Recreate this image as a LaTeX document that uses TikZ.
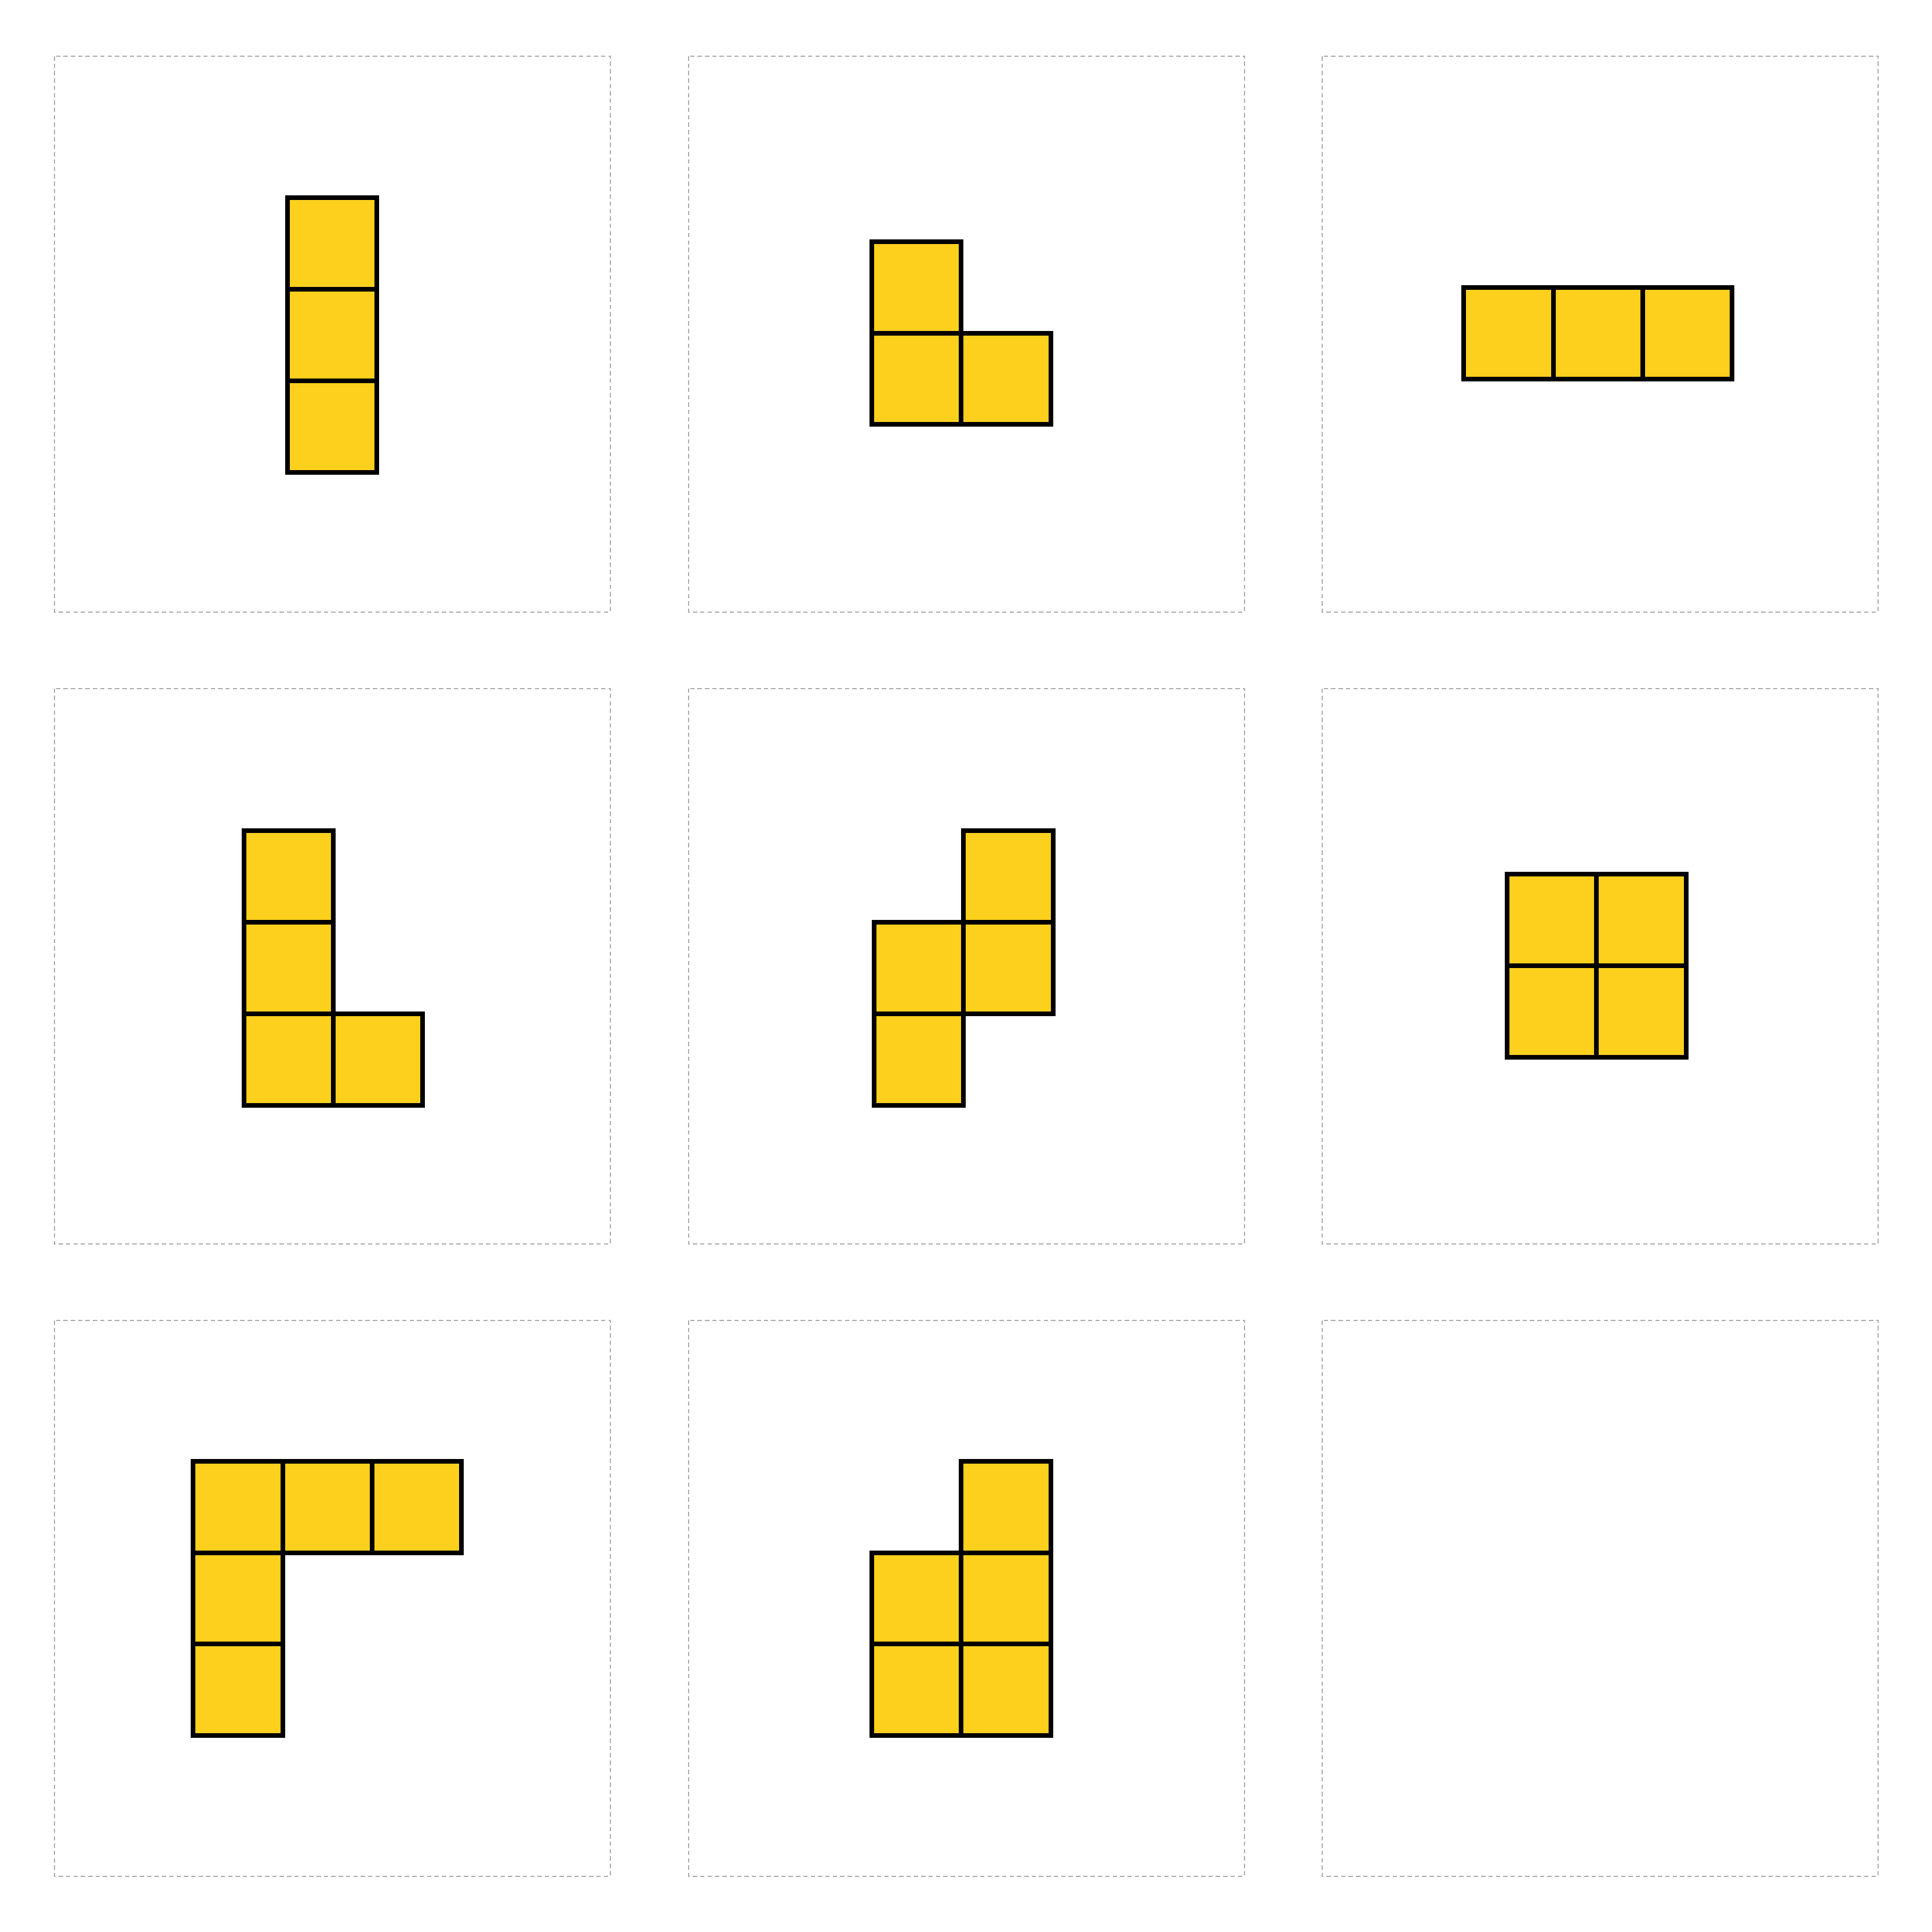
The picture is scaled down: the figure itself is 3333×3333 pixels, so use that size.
\documentclass[tikz,border=0pt]{standalone}
\definecolor{cellfill}{RGB}{252,208,29}
\definecolor{panelgray}{RGB}{172,172,172}
\def\cw{154.3}
\def\ch{157.8}
\begin{document}
\begin{tikzpicture}[x=0.01cm,y=-0.01cm,
  cellbox/.style={fill=cellfill,draw=black,line width=0.08cm},
  panelbox/.style={draw=panelgray,line width=0.02cm,dash pattern=on 0.075cm off 0.052cm}]
\useasboundingbox[fill=white] (0,0) rectangle (3333,3333);
% panels
\foreach \px in {94,1188,2281}{
  \foreach \py in {97,1187.5,2278}{
    \draw[panelbox] (\px,\py) rectangle ++(959,958.5);
  }
}
% piece 1: vertical I
\begin{scope}[shift={(496,341.3)}]
\foreach \c/\r in {0/0,0/1,0/2} \draw[cellbox] (\c*\cw,\r*\ch) rectangle ++(\cw,\ch);
\end{scope}
% piece 2: small L
\begin{scope}[shift={(1504,416.7)}]
\foreach \c/\r in {0/0,0/1,1/1} \draw[cellbox] (\c*\cw,\r*\ch) rectangle ++(\cw,\ch);
\end{scope}
% piece 3: horizontal I
\begin{scope}[shift={(2525.3,495.7)}]
\foreach \c/\r in {0/0,1/0,2/0} \draw[cellbox] (\c*\cw,\r*\ch) rectangle ++(\cw,\ch);
\end{scope}
% piece 4: L
\begin{scope}[shift={(420.7,1433.3)}]
\foreach \c/\r in {0/0,0/1,0/2,1/2} \draw[cellbox] (\c*\cw,\r*\ch) rectangle ++(\cw,\ch);
\end{scope}
% piece 5: S
\begin{scope}[shift={(1508,1433.3)}]
\foreach \c/\r in {1/0,0/1,1/1,0/2} \draw[cellbox] (\c*\cw,\r*\ch) rectangle ++(\cw,\ch);
\end{scope}
% piece 6: O
\begin{scope}[shift={(2600,1508)}]
\foreach \c/\r in {0/0,1/0,0/1,1/1} \draw[cellbox] (\c*\cw,\r*\ch) rectangle ++(\cw,\ch);
\end{scope}
% piece 7: big corner
\begin{scope}[shift={(333.3,2520.7)}]
\foreach \c/\r in {0/0,1/0,2/0,0/1,0/2} \draw[cellbox] (\c*\cw,\r*\ch) rectangle ++(\cw,\ch);
\end{scope}
% piece 8: P
\begin{scope}[shift={(1504,2520.7)}]
\foreach \c/\r in {1/0,0/1,1/1,0/2,1/2} \draw[cellbox] (\c*\cw,\r*\ch) rectangle ++(\cw,\ch);
\end{scope}
\end{tikzpicture}
\end{document}
